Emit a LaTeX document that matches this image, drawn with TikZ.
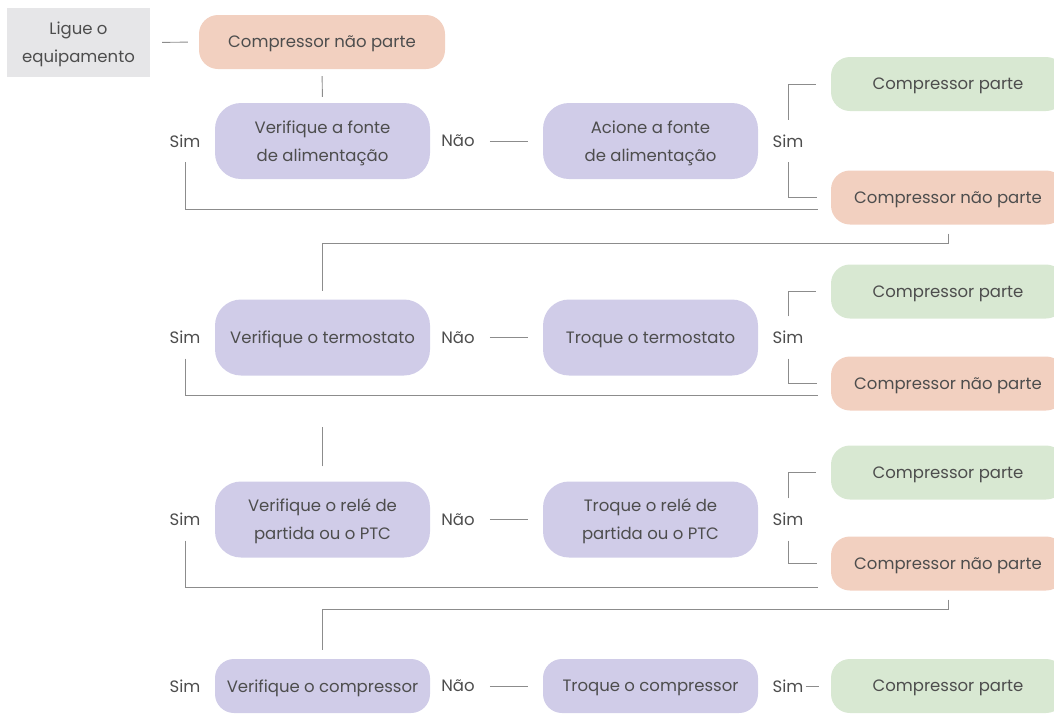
\documentclass[tikz,border=0pt]{standalone}
\usepackage{fontspec}
\setmainfont{Poppins}
\definecolor{purp}{HTML}{D0CCE8}
\definecolor{orng}{HTML}{F2D0C0}
\definecolor{grn}{HTML}{D8E8D2}
\definecolor{gry}{HTML}{E6E6E8}
\definecolor{txt}{HTML}{4D4D4D}
\definecolor{ln}{HTML}{8C8C8C}
\tikzset{
  base/.style={inner sep=0pt, align=center, text=txt, text depth=0pt, font=\fontsize{16.5}{28}\selectfont},
  startbox/.style={base, fill=gry, minimum width=143pt, minimum height=69pt},
  stepbox/.style={base, fill=purp, rounded corners=26pt, minimum width=215pt, minimum height=76pt},
  failbox/.style={base, fill=orng, rounded corners=19pt, minimum width=234pt, minimum height=54pt},
  okbox/.style={base, fill=grn, rounded corners=19pt, minimum width=234pt, minimum height=54pt},
  lbl/.style={base, minimum height=20pt},
  conn/.style={draw=ln, line width=0.9pt},
}
\begin{document}
\begin{tikzpicture}[x=1pt,y=-1pt]
\useasboundingbox (0,0) rectangle (1054,713);
\clip (0,0) rectangle (1054,713);
% start
\node[startbox] (start) at (78.5,42.5) {Ligue o\\equipamento};
\node[failbox, minimum width=246pt] (top) at (322,42) {Compressor não parte};
% row 1
\node[stepbox] (v1) at (322.5,141) {Verifique a fonte\\de alimentação};
\node[stepbox] (a1) at (650.5,141) {Acione a fonte\\de alimentação};
\node[lbl] (s1l) at (185,141) {Sim};
\node[lbl] (n1) at (458,141) {Não};
\node[lbl] (s1r) at (788,141) {Sim};
\node[okbox] (g1) at (948,84) {Compressor parte};
\node[failbox] (o1) at (948,197.5) {Compressor não parte};
% row 2
\node[stepbox] (v2) at (322.5,337.5) {Verifique o termostato};
\node[stepbox] (a2) at (650.5,337.5) {Troque o termostato};
\node[lbl] (s2l) at (185,337.5) {Sim};
\node[lbl] (n2) at (458,337.5) {Não};
\node[lbl] (s2r) at (788,337.5) {Sim};
\node[okbox] (g2) at (948,291.5) {Compressor parte};
\node[failbox] (o2) at (948,383.5) {Compressor não parte};
% row 3
\node[stepbox] (v3) at (322.5,519.5) {Verifique o relé de\\partida ou o PTC};
\node[stepbox] (a3) at (650.5,519.5) {Troque o relé de\\partida ou o PTC};
\node[lbl] (s3l) at (185,519.5) {Sim};
\node[lbl] (n3) at (458,519.5) {Não};
\node[lbl] (s3r) at (788,519.5) {Sim};
\node[okbox] (g3) at (948,472.5) {Compressor parte};
\node[failbox] (o3) at (948,563.5) {Compressor não parte};
% row 4
\node[stepbox, minimum height=54pt, rounded corners=19pt] (v4) at (322.5,686) {Verifique o compressor};
\node[stepbox, minimum height=54pt, rounded corners=19pt] (a4) at (650.5,686) {Troque o compressor};
\node[lbl] (s4l) at (185,686) {Sim};
\node[lbl] (n4) at (458,686) {Não};
\node[lbl] (s4r) at (788,686) {Sim};
\node[okbox] (g4) at (948,686) {Compressor parte};
% connectors
\draw[conn, shorten <=12pt, shorten >=11pt] (start.east) -- (top.west);
\draw[conn, shorten <=7pt, shorten >=6pt] (top.south) -- (v1.north);
\foreach \r in {1,2,3,4}{
  \draw[conn, shorten <=15pt, shorten >=15pt] (n\r.east) -- (a\r.west);
}
\foreach \r in {1,2,3}{
  \draw[conn, shorten <=11pt, shorten >=15pt] (s\r r.north) |- (g\r.west);
  \draw[conn, shorten <=11pt, shorten >=14pt] (s\r r.south) |- (o\r.west);
}
\draw[conn, shorten <=11pt, shorten >=13pt] (s1l.south) |- ([yshift=-11.5pt]o1.west);
\draw[conn, shorten <=11pt, shorten >=13pt] (s2l.south) |- ([yshift=-11.5pt]o2.west);
\draw[conn, shorten <=11pt, shorten >=13pt] (s3l.south) |- ([yshift=-23.5pt]o3.west);
\draw[conn, shorten <=9pt, shorten >=8pt] (o1.south) -- ++(0,19) -| (v2.north);
\draw[conn, shorten <=15pt] (v3.north) -- ++(0,-54);
\draw[conn, shorten <=9pt, shorten >=9pt] (o3.south) -- ++(0,19) -| (v4.north);
\draw[conn, shorten <=2pt, shorten >=12pt] (s4r.east) -- (g4.west);
\end{tikzpicture}
\end{document}
